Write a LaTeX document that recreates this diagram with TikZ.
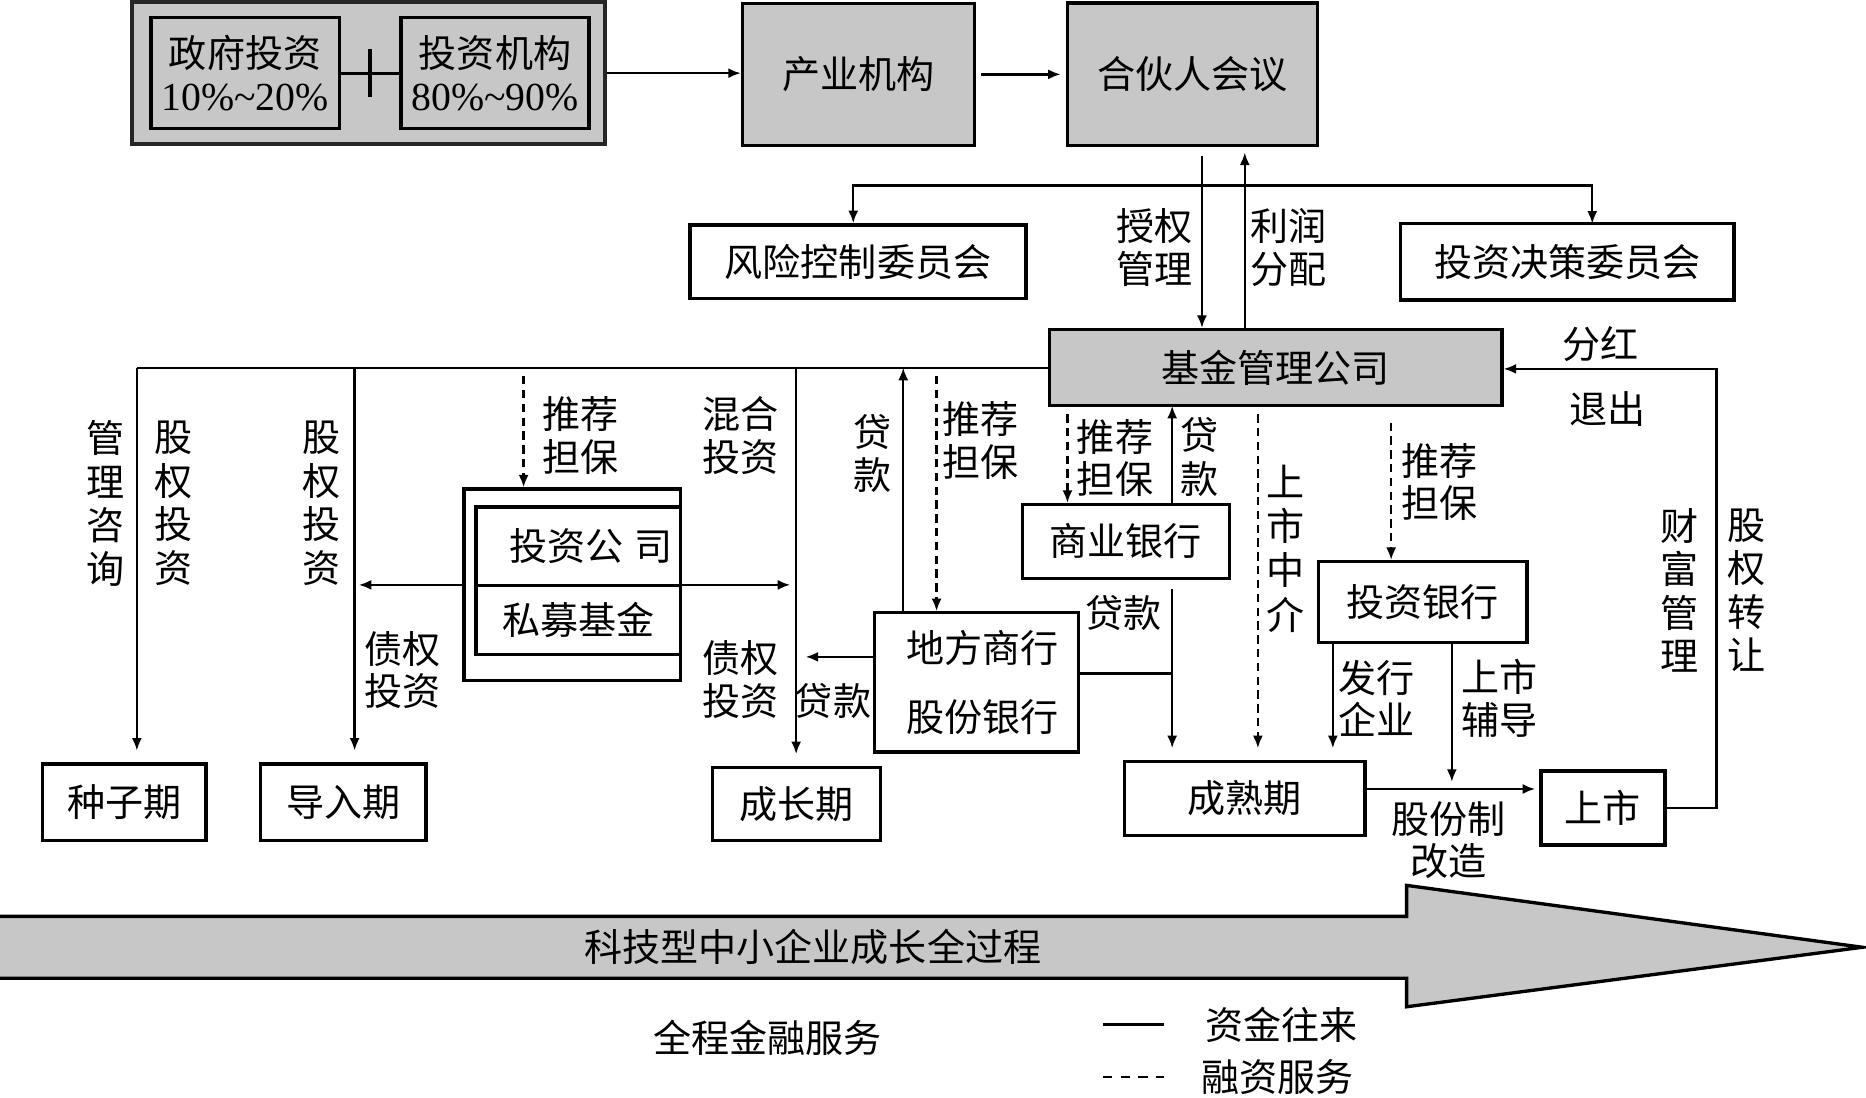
\documentclass[tikz,border=0pt]{standalone}
\usepackage{fontspec}
\newfontfamily\cjk{Noto Sans CJK SC}
\newfontfamily\numfont{Liberation Serif}
\usepackage{xcolor}
\usetikzlibrary{arrows.meta,calc}
\definecolor{boxgray}{gray}{0.78}
\tikzset{
  plainbox/.style={draw,line width=.8pt,inner sep=0pt,font=\cjk\fontsize{9.1pt}{10.3pt}\selectfont},
  shadedbox/.style={plainbox,fill=boxgray},
  flowline/.style={line width=.55pt},
  flowarrow/.style={-{Latex[length=3pt,width=2.4pt]},line width=.55pt},
  servicearrow/.style={flowarrow,dash pattern=on 2pt off 1.3pt},
  lbl/.style={inner sep=0pt,align=center,font=\cjk\fontsize{9.1pt}{10.2pt}\selectfont},
  vlbl/.style={lbl,font=\cjk\fontsize{9.1pt}{10.4pt}\selectfont}
}

\begin{document}
\begin{tikzpicture}[x=0.01cm,y=-0.01cm]
  \useasboundingbox (0,0) rectangle (1568,922);
  % top row
  \node[shadedbox,line width=.9pt,draw=black!85,minimum width=39.7mm,minimum height=11.9mm] (investors) at (309.5,61.5) {};
  \node[shadedbox,minimum width=15.8mm,minimum height=9.3mm,align=center] (govinv) at (206,61.5)
    {政府投资\\{\numfont\fontsize{9.5pt}{10pt}\selectfont 10\%\textasciitilde20\%}};
  \node[shadedbox,minimum width=15.8mm,minimum height=9.3mm,align=center] (instinv) at (416,61.5)
    {投资机构\\{\numfont\fontsize{9.5pt}{10pt}\selectfont 80\%\textasciitilde90\%}};
  \node[shadedbox,minimum width=19.5mm,minimum height=11.9mm] (industry) at (721.5,62.5) {产业机构};
  \node[shadedbox,minimum width=21mm,minimum height=12mm] (partners) at (1002,62.5) {合伙人会议};
  \draw[flowline,line width=.8pt] (govinv) -- (instinv);
  \draw[flowline,line width=.8pt] ($(govinv.east)!.5!(instinv.west)$) ++(0,-20) -- ++(0,40);
  \draw[flowarrow] (investors.east) -- (investors.east -| industry.west);
  \draw[flowarrow,shorten <=1.2pt,shorten >=1.2pt] (industry) -- (partners);

  % committees and fund manager
  \node[plainbox,minimum width=28.2mm,minimum height=6.2mm] (riskcom) at (721,220) {风险控制委员会};
  \node[plainbox,minimum width=28mm,minimum height=6.4mm] (deccom) at (1317,220) {投资决策委员会};
  \node[shadedbox,minimum width=38mm,minimum height=6.4mm] (fundmgr) at (1072,309) {基金管理公司};
  \coordinate (branch) at (1010,156);
  \coordinate (deccomin) at (1338,188);
  \draw[flowarrow] (branch) -| ($(riskcom.north)+(-4,0)$);
  \draw[flowarrow] (branch) -| (deccomin);
  \draw[flowarrow,shorten <=2pt] ($(partners.south)+(8,0)$) -- ($(fundmgr.north)+(-62,0)$);
  \draw[flowarrow,shorten >=1.2pt] ($(fundmgr.north)+(-26,0)$) -- ($(partners.south)+(44,0)$);
  \node[lbl] (authlbl) at (970,208) {授权\\管理};
  \node[lbl] (profitlbl) at (1083,208) {利润\\分配};

  % stages
  \node[plainbox,minimum width=13.7mm,minimum height=6.4mm] (seed) at (104.5,674) {种子期};
  \node[plainbox,minimum width=13.9mm,minimum height=6.4mm] (intro) at (288.5,674) {导入期};
  \node[plainbox,minimum width=14.1mm,minimum height=6.1mm] (growth) at (669.5,675.5) {成长期};
  \node[plainbox,minimum width=20.2mm,minimum height=6.2mm] (mature) at (1046,671) {成熟期};
  \node[plainbox,minimum width=10.4mm,minimum height=6.2mm] (listed) at (1347,679) {上市};

  % fund manager bus
  \coordinate (busw) at (115,309);
  \coordinate (bus2) at (298,309);
  \coordinate (bus3) at (669,309);
  \coordinate (bus4) at (759,309);
  \coordinate (bus5) at (787,309);
  \coordinate (pedash) at (440,309);
  \draw[flowline] (busw) -- (fundmgr.west);
  \draw[flowarrow,shorten >=2.8pt] (busw) -- (busw |- seed.north);
  \draw[flowarrow,shorten >=2.8pt] (bus2) -- (bus2 |- intro.north);
  \draw[flowarrow,shorten >=2.8pt] (bus3) -- (bus3 |- growth.north);
  \node[vlbl] (consultlbl) at (89,423) {管\\理\\咨\\询};
  \node[vlbl] (equitylbl) at (146,423) {股\\权\\投\\资};
  \node[vlbl] (equitylbl2) at (270,423) {股\\权\\投\\资};
  \node[lbl] (debtlbl) at (338,563) {债权\\投资};

  % private equity
  \node[plainbox,minimum width=18.2mm,minimum height=16.1mm] (pefund) at (481,491.5) {};
  \node[plainbox,minimum width=17.2mm,minimum height=6.6mm] (pecomp) at (486,459) {\hspace{6pt}投资公\hspace{.3em}司};
  \node[plainbox,minimum width=17.2mm,minimum height=5.8mm] (pepriv) at (486,521) {私募基金};
  \draw[servicearrow,shorten <=2pt] (pedash) -- (pedash |- pefund.north);
  \draw[flowarrow,shorten >=1pt] (pefund.west) -- (pefund.west -| bus2);
  \draw[flowarrow,shorten >=1.4pt] (pefund.east) -- (pefund.east -| bus3);
  \node[lbl] (pegualbl) at (488,366) {推荐\\担保};
  \node[lbl] (mixlbl) at (622,366) {混合\\投资};
  \node[lbl] (debtlbl2) at (622,571) {债权\\投资};

  % local bank
  \node[plainbox,minimum width=17.1mm,minimum height=11.7mm,align=center] (localbank) at (820.5,573.5)
    {\hspace{3pt}地方商行\\[6.2pt]\hspace{3pt}股份银行};
  \coordinate (loanend) at (677,552);
  \coordinate (lbjoin) at ($(localbank.east)+(0,-7.5)$);
  \draw[flowarrow] ($(localbank.west)+(0,-21.5)$) -- (loanend);
  \draw[flowarrow] (bus4 |- localbank.north) -- (bus4);
  \draw[servicearrow,shorten <=2pt] (bus5) -- (bus5 |- localbank.north);
  \node[lbl] (loanlbl) at (700,589) {贷款};
  \node[vlbl] (loanlbl2) at (733,381) {贷\\款};
  \node[lbl] (lbgualbl) at (824,370) {推荐\\担保};

  % commercial bank
  \node[plainbox,minimum width=17.4mm,minimum height=6.2mm] (commbank) at (946,455) {商业银行};
  \coordinate (cbdash) at (897,341);
  \coordinate (cbloan) at (985,341);
  \draw[servicearrow,shorten <=2pt] (cbdash) -- (cbdash |- commbank.north);
  \draw[flowarrow] (cbloan |- commbank.north) -- (cbloan);
  \draw[flowarrow,shorten <=2.2pt,shorten >=2.8pt] (cbloan |- commbank.south) -- (cbloan |- mature.north);
  \draw[flowline] (lbjoin) -- (lbjoin -| cbloan);
  \node[lbl] (cbgualbl) at (937,385) {推荐\\担保};
  \node[vlbl] (cbloanlbl) at (1008,384) {贷\\款};
  \node[lbl] (cbloanlbl2) at (944,515) {贷款};

  % listing services
  \coordinate (ipodash) at (1057,341);
  \draw[servicearrow,shorten <=2pt,shorten >=2.8pt] (ipodash) -- (ipodash |- mature.north);
  \node[vlbl,font=\cjk\fontsize{9.1pt}{10.6pt}\selectfont] (agentlbl) at (1080,461) {上\\市\\中\\介};

  % investment bank
  \node[plainbox,minimum width=17.5mm,minimum height=6.8mm] (invbank) at (1195.5,506) {投资银行};
  \coordinate (ibdash) at (1169,341);
  \coordinate (ibissue) at (1120,540);
  \coordinate (ibguide) at (1220,540);
  \coordinate (guideend) at (1220,657);
  \draw[servicearrow,shorten <=4pt] (ibdash) -- (ibdash |- invbank.north);
  \draw[flowarrow,shorten >=2.8pt] (ibissue) -- (ibissue |- mature.north);
  \draw[flowarrow] (ibguide) -- (guideend);
  \node[lbl] (ibgualbl) at (1210,405) {推荐\\担保};
  \node[lbl] (issuelbl) at (1157,587) {发行\\企业};
  \node[lbl] (guidelbl) at (1260,587) {上市\\辅导};

  % listing and exit
  \coordinate (ipoline) at (1147,663);
  \draw[flowarrow,shorten >=1pt] (ipoline) -- (ipoline -| listed.west);
  \node[lbl] (reformlbl) at (1217,706) {股份制\\改造};
  \draw[flowarrow] (listed.east) -- ++(42,0) |- ($(fundmgr.east)+(0,1)$);
  \node[lbl] (divlbl) at (1345,289) {分红};
  \node[lbl] (exitlbl) at (1351,344) {退出};
  \node[vlbl] (wealthlbl) at (1411,496) {财\\富\\管\\理};
  \node[vlbl] (transferlbl) at (1468,496) {股\\权\\转\\让};

  % growth process arrow
  \draw[line width=.8pt,fill=boxgray] (-5,770) -- (1182,770) -- (1182,744) -- (1565,796)
    -- (1182,846) -- (1182,822) -- (-5,822) -- cycle;
  \node[lbl] (process) at (683,796) {科技型中小企业成长全过程};

  % legend
  \node[lbl] (legend) at (645,872) {全程金融服务};
  \coordinate (solidA) at (927,861);
  \coordinate (solidB) at (978,861);
  \coordinate (dashA) at (927,905);
  \coordinate (dashB) at (978,905);
  \draw[line width=.8pt] (solidA) -- (solidB);
  \draw[line width=.6pt,dash pattern=on 2.2pt off 2pt] (dashA) -- (dashB);
  \node[lbl,anchor=west] (fundflow) at (1012,861) {资金往来};
  \node[lbl,anchor=west] (finservice) at (1009,905) {融资服务};
\end{tikzpicture}
\end{document}
